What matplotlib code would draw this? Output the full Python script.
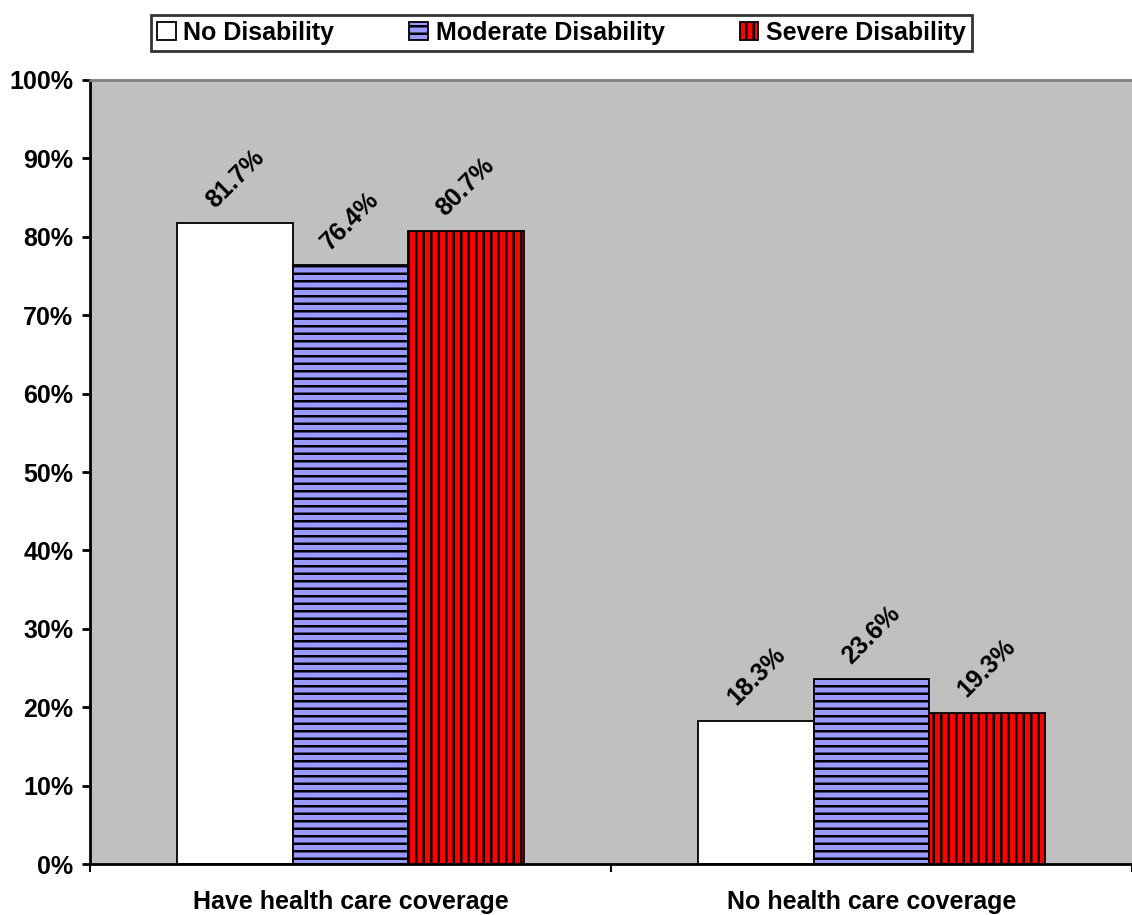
import numpy as np
import matplotlib
matplotlib.use("Agg")
import matplotlib.pyplot as plt
from matplotlib.ticker import PercentFormatter

# render at 90 dpi so the hatch stripes come out ~7.5 px apart like the original
DPI = 90
S = 100 / DPI  # point sizes were tuned at 100 dpi

plt.rcParams["font.family"] = ["Liberation Sans", "DejaVu Sans"]
plt.rcParams["font.weight"] = "bold"
plt.rcParams["hatch.linewidth"] = 1.8 * S
plt.rcParams["hatch.color"] = "black"

# ── Data ─────────────────────────────────────────────────────────────────────
categories = ["Have health care coverage", "No health care coverage"]
series = ["No Disability", "Moderate Disability", "Severe Disability"]
no_disability = [81.7, 18.3]
moderate_disability = [76.4, 23.6]
severe_disability = [80.7, 19.3]
y_ticks = [0, 10, 20, 30, 40, 50, 60, 70, 80, 90, 100]

values = [no_disability, moderate_disability, severe_disability]
colors = ["white", "#9999FF", "#FF0000"]
hatches = [None, "--", "||"]

fig = plt.figure(figsize=(1132 / DPI, 915 / DPI), dpi=DPI)
ax = fig.add_axes([0.0795, 0.0557, 0.9205, 0.8569])
ax.set_facecolor("#C0C0C0")

x = np.arange(len(categories))
width = 0.2214
for i, (name, vals) in enumerate(zip(series, values)):
    bars = ax.bar(x + (i - 1) * width, vals, width=width, color=colors[i],
                  edgecolor="black", linewidth=1.3 * S, hatch=hatches[i], label=name)
    for bar, v in zip(bars, vals):
        ax.annotate(f"{v:.1f}%", (bar.get_x() + bar.get_width() / 2, v),
                    xytext=(0, 32 * S), textcoords="offset points",
                    ha="center", va="center", rotation=45,
                    rotation_mode="anchor", fontsize=18 * S, fontweight="bold")

ax.set_xlim(-0.5, 1.5)
ax.set_ylim(0, 100)
ax.set_yticks(y_ticks)
ax.yaxis.set_major_formatter(PercentFormatter(decimals=0))
ax.tick_params(axis="y", direction="out", length=6 * S, width=2 * S,
               pad=6 * S, labelsize=18 * S)

ax.set_xticks([-0.5, 0.5, 1.5])
ax.set_xticklabels([])
ax.tick_params(axis="x", which="major", direction="out", length=6 * S, width=1.5 * S)
ax.set_xticks(x, minor=True)
ax.set_xticklabels(categories, minor=True, fontsize=18 * S, fontweight="bold")
ax.tick_params(axis="x", which="minor", length=0, pad=19 * S)

ax.spines["left"].set_linewidth(2 * S)
ax.spines["bottom"].set_linewidth(2 * S)
ax.spines["top"].set_color("#808080")
ax.spines["top"].set_linewidth(2 * S)
ax.spines["right"].set_visible(False)

leg = fig.legend(loc="center", bbox_to_anchor=(0.496, 0.964), ncol=3,
                 frameon=True, fancybox=False, fontsize=18 * S,
                 handlelength=0.75, handleheight=0.75, handletextpad=0.3,
                 columnspacing=3.0, borderpad=0.25, borderaxespad=0)
leg.get_frame().set_edgecolor("black")
leg.get_frame().set_linewidth(2 * S)

fig.savefig("out.png", dpi=DPI)
